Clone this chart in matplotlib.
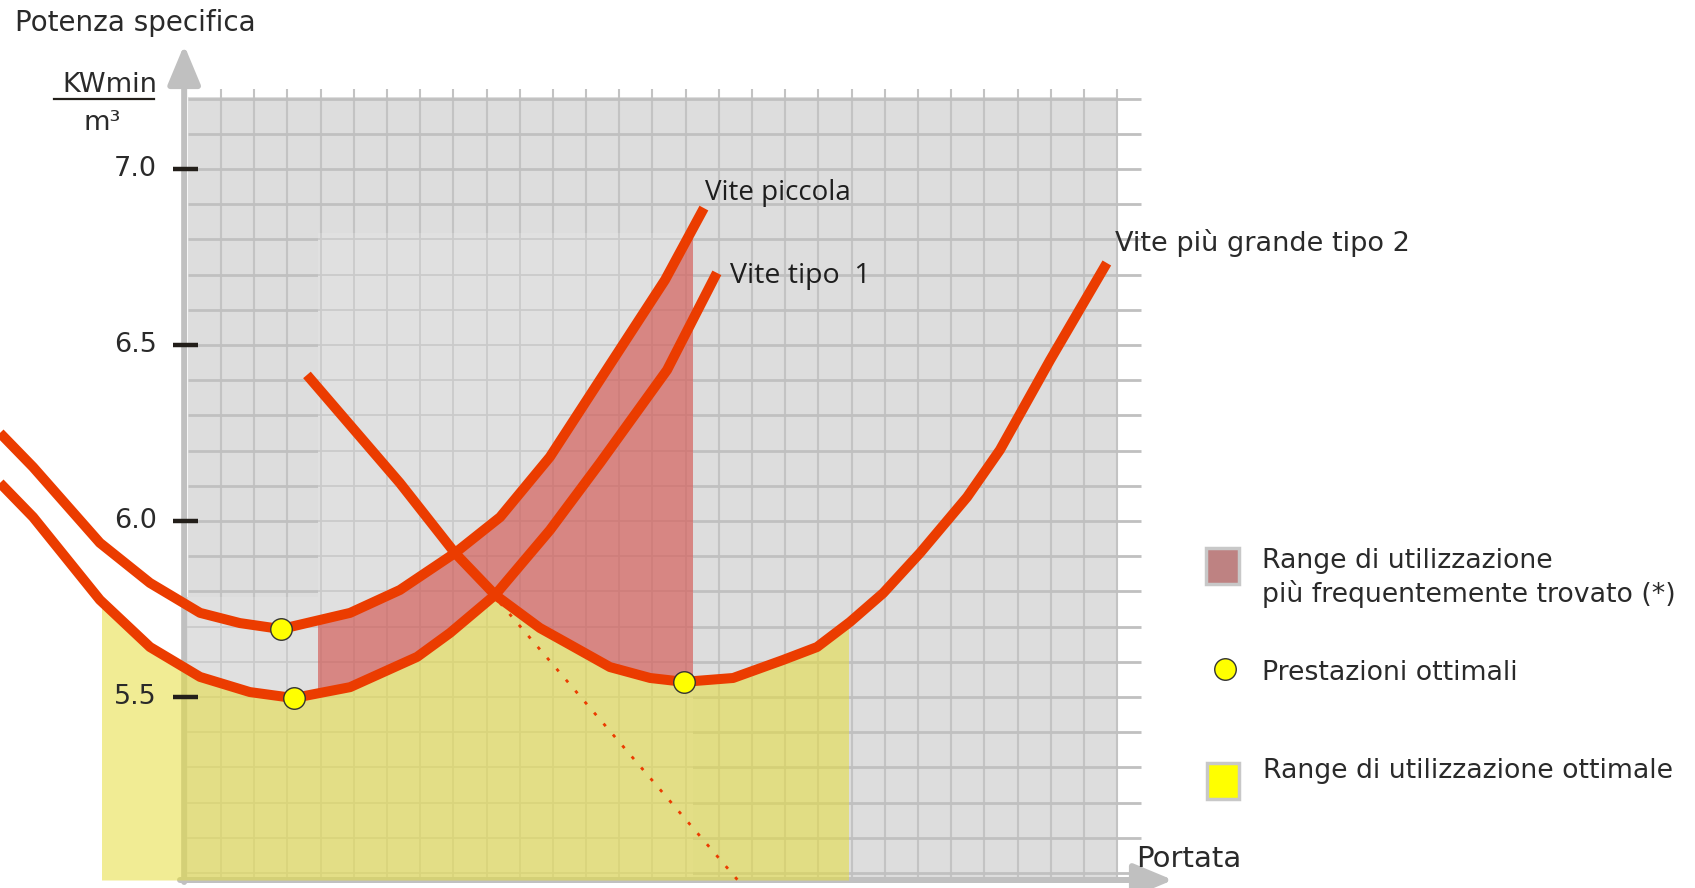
import numpy as np
import matplotlib.pyplot as plt
from matplotlib.patches import Rectangle

# curves: x = portata (grid columns), y = potenza specifica (KWmin/m3)
piccola_x = [-5.66, -4.66, -2.65, -1.14, 0.37, 1.57, 2.81, 4.89, 6.39, 8.05, 9.41, 10.91, 12.42, 14.38, 15.55]
piccola_y = [6.250, 6.153, 5.938, 5.824, 5.739, 5.710, 5.693, 5.739, 5.804, 5.909, 6.011, 6.182, 6.401, 6.685, 6.889]

tipo1_x = [-5.66, -4.66, -2.65, -1.14, 0.37, 1.87, 3.19, 4.89, 6.91, 7.90, 9.26, 10.91, 12.42, 14.44, 15.94]
tipo1_y = [6.108, 6.011, 5.776, 5.642, 5.557, 5.514, 5.497, 5.528, 5.614, 5.682, 5.790, 5.974, 6.165, 6.429, 6.705]

tipo2_x = [3.59, 6.39, 8.05, 9.26, 10.61, 11.43, 12.72, 13.93, 14.95, 16.43, 17.93, 18.96, 19.95,
           20.95, 22.06, 23.48, 24.47, 25.98, 27.69]
tipo2_y = [6.415, 6.108, 5.909, 5.790, 5.696, 5.653, 5.585, 5.554, 5.543, 5.554, 5.605, 5.642, 5.713,
           5.795, 5.909, 6.068, 6.202, 6.457, 6.733]

# dotted continuation of tipo 2
dot_x = [9.41, 16.64]
dot_y = [5.767, 4.972]

# crossing of tipo 1 and tipo 2
cross_x = 9.26

# optimal points
opt_x = [2.81, 3.19, 14.95]
opt_y = [5.693, 5.497, 5.543]

# ranges
freq_range = (3.93, 15.22)
opt_range = (-2.58, 19.89)
light_boxes = [(3.93, 6.818), (-0.17, 5.784)]   # (x start, y top) of the pasted lighter panels
light_box_ends = [15.22, 3.93]

yticks = [5.5, 6.0, 6.5, 7.0]

W, H = 1695, 888
red = '#eb3c00'
txt = '#2a2a2a'

# pixel -> data helpers (figure is one big axes)
def dx(px):
    return (px - 187.8) / 33.19

def dy(py):
    return 5.5 - (py - 697) / 352

fig = plt.figure(figsize=(W / 100, H / 100), dpi=100)
ax = fig.add_axes([0, 0, 1, 1])
ax.set_xlim(dx(0), dx(W))
ax.set_ylim(dy(H), dy(0))
ax.axis('off')

ybot = 4.98
ax.add_patch(Rectangle((0, ybot), 28, 7.205 - ybot, color='#dddddd', zorder=1, lw=0))

# grid
for gx in range(1, 29):
    ax.plot([gx, gx], [ybot, 7.227], color='#c3c3c3', lw=1.5, zorder=2, solid_capstyle='butt')
for gy in np.arange(5.0, 7.25, 0.1):
    ax.plot([0, 28.72], [gy, gy], color='#c0c0c0', lw=2.0, zorder=2, solid_capstyle='butt')

# lighter pasted panels with finer lines
for (bx, btop), bend in zip(light_boxes, light_box_ends):
    box = Rectangle((bx, ybot), bend - bx, btop - ybot, color='#e0e0e0', zorder=3, lw=0)
    ax.add_patch(box)
    for gx in range(1, 29):
        ln, = ax.plot([gx, gx], [ybot, 7.227], color='#cacaca', lw=1.3, zorder=3.5)
        ln.set_clip_path(box)
    for gy in np.arange(5.0, 7.25, 0.1):
        ln, = ax.plot([0, 28.72], [gy, gy], color='#cacaca', lw=1.3, zorder=3.5)
        ln.set_clip_path(box)

# axes arrows
arr = dict(arrowstyle='-|>,head_length=1.2,head_width=0.5', color='#c0c0c0', lw=4.3,
           mutation_scale=20, shrinkA=0, shrinkB=0)
ax.annotate('', xy=(-0.11, dy(45)), xytext=(-0.11, dy(882)), arrowprops=arr, zorder=4)
ax.annotate('', xy=(dx(1173), dy(880)), xytext=(dx(180), dy(880)), arrowprops=arr, zorder=4)

# lower envelope of tipo 1 / tipo 2
env_x = [x for x in tipo1_x if x <= cross_x] + [x for x in tipo2_x if x > cross_x]
env_y = [y for x, y in zip(tipo1_x, tipo1_y) if x <= cross_x] + \
        [y for x, y in zip(tipo2_x, tipo2_y) if x > cross_x]

# optimal range (yellow)
yclip = Rectangle((opt_range[0], dy(880)), opt_range[1] - opt_range[0], 3, transform=ax.transData)
yel = ax.fill_between(env_x, env_y, dy(880), color='#e6de3c', alpha=0.55, lw=0, zorder=5)
yel.set_clip_path(yclip)

# most frequent range (red)
rclip = Rectangle((freq_range[0], 4.5), freq_range[1] - freq_range[0], 3, transform=ax.transData)
rx = list(piccola_x) + env_x[::-1]
ry = list(piccola_y) + env_y[::-1]
rp = ax.fill(rx, ry, color='#d2504b', alpha=0.62, lw=0, zorder=6)[0]
rp.set_clip_path(rclip)

ax.plot(dot_x, dot_y, color=red, lw=2, ls=(0, (1.2, 4)), zorder=7)
for cx, cy in [(piccola_x, piccola_y), (tipo1_x, tipo1_y), (tipo2_x, tipo2_y)]:
    ax.plot(cx, cy, color=red, lw=7.2, zorder=8, solid_capstyle='butt', solid_joinstyle='round')
ax.plot(opt_x, opt_y, 'o', ms=15.5, mfc='#ffff00', mec='#333333', mew=1, zorder=9)

# y ticks
for t in yticks:
    ax.plot([dx(173), dx(198)], [t, t], color='#231f1a', lw=3.2, zorder=9, solid_capstyle='butt')
    ax.text(dx(157), t, f'{t:.1f}', ha='right', va='center', fontsize=19.5, color=txt,
            family='DejaVu Sans', zorder=10)

def ftext(px, py, s, **kw):
    fig.text(px / W, 1 - py / H, s, **kw)

ftext(15, 31, 'Potenza specifica', fontsize=20, color=txt, va='baseline')
ftext(110, 92, 'KWmin', fontsize=19.5, color=txt, va='baseline', ha='center')
ax.plot([dx(54), dx(154)], [dy(99), dy(99)], color='#231f1a', lw=1.6)
ftext(102, 130, 'm³', fontsize=19.5, color=txt, va='baseline', ha='center')
ftext(1136, 867, 'Portata', fontsize=21, color=txt, va='baseline')

ftext(705, 200, 'Vite piccola', fontsize=20, color='#1e1e1e', va='baseline', family='Open Sans')
ftext(730, 283, 'Vite tipo  1', fontsize=20.5, color='#1e1e1e', va='baseline', family='Open Sans')
ftext(1115, 251, 'Vite più grande tipo 2', fontsize=19.5, color=txt, va='baseline')

# legend
ax.add_patch(Rectangle((dx(1206), dy(584)), dx(1239) - dx(1206), dy(548) - dy(584),
                       fc='#be8282', ec='#c8c8c8', lw=2.5, zorder=9))
ax.add_patch(Rectangle((dx(1207), dy(799)), dx(1239) - dx(1207), dy(763) - dy(799),
                       fc='#ffff00', ec='#c8c8c8', lw=2.5, zorder=9))
ax.plot([dx(1225)], [dy(669)], 'o', ms=15.5, mfc='#ffff00', mec='#333333', mew=1, zorder=9)
ftext(1262, 568, 'Range di utilizzazione', fontsize=19.3, color=txt, va='baseline')
ftext(1262, 602, 'più frequentemente trovato (*)', fontsize=19.3, color=txt, va='baseline')
ftext(1262, 680, 'Prestazioni ottimali', fontsize=19.3, color=txt, va='baseline')
ftext(1263, 778, 'Range di utilizzazione ottimale', fontsize=19.3, color=txt, va='baseline')

fig.savefig('out.png', dpi=100)
